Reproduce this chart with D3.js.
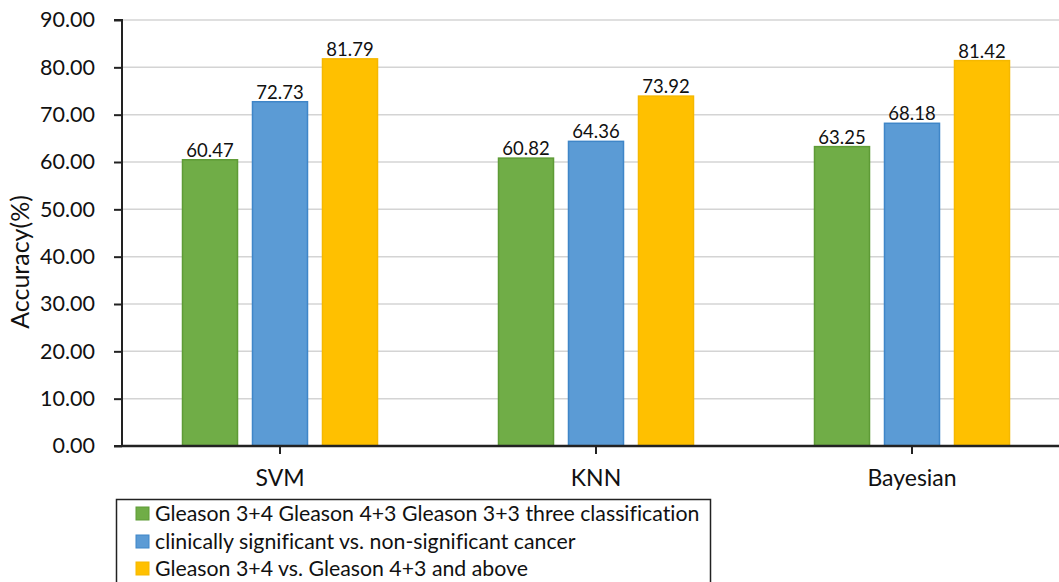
<!DOCTYPE html>
<html>
<head>
<meta charset="utf-8">
<script src="https://cdn.jsdelivr.net/npm/d3@7"></script>
<style>
  html, body { margin: 0; padding: 0; background: #fff; }
  svg { display: block; font-family: Lato, "Open Sans", sans-serif; font-variant-ligatures: none; }
</style>
</head>
<body>
<svg id="chart" width="1059" height="582"></svg>
<script>
// Classifier accuracy for three Gleason-grading tasks
const categories = ["SVM", "KNN", "Bayesian"];
const seriesNames = [
  "Gleason 3+4 Gleason 4+3 Gleason 3+3 three classification",
  "clinically significant vs. non-significant cancer",
  "Gleason 3+4 vs. Gleason 4+3 and above"
];
const threeClass = [60.47, 60.82, 63.25];
const significant = [72.73, 64.36, 68.18];
const highGrade = [81.79, 73.92, 81.42];
const yTicks = [0, 10, 20, 30, 40, 50, 60, 70, 80, 90];

const seriesValues = [threeClass, significant, highGrade];
const fills = ["#70AD47", "#5B9BD5", "#FFC000"];
const strokes = ["#5E9B36", "#3F86C8", "#F5B800"];

const svg = d3.select("#chart");
const plotLeft = 122, plotRight = 1070, plotTop = 20, plotBottom = 446;

const x = d3.scaleBand().domain(categories).range([plotLeft, plotRight]).padding(0);
const xs = d3.scaleBand().domain(d3.range(3)).range([-97.5, 97.5]).paddingInner(0.214);
const y = d3.scaleLinear().domain([0, 90]).range([plotBottom, plotTop]);

// gridlines
svg.append("g")
  .selectAll("line")
  .data(yTicks.filter(d => d > 0))
  .join("line")
  .attr("x1", plotLeft + 1).attr("x2", plotRight)
  .attr("y1", d => y(d)).attr("y2", d => y(d))
  .attr("stroke", "#d4d4d4").attr("stroke-width", 1.5);

// bars
const rows = [];
categories.forEach((c, ci) => {
  seriesValues.forEach((vals, si) => rows.push({ c, si, v: vals[ci] }));
});

svg.append("g")
  .selectAll("rect")
  .data(rows)
  .join("rect")
  .attr("x", d => x(d.c) + x.bandwidth() / 2 + xs(d.si))
  .attr("y", d => y(d.v))
  .attr("width", xs.bandwidth())
  .attr("height", d => y(0) - y(d.v))
  .attr("fill", d => fills[d.si])
  .attr("stroke", d => strokes[d.si])
  .attr("stroke-width", 1.5);

// value labels
svg.append("g")
  .selectAll("text")
  .data(rows)
  .join("text")
  .attr("x", d => x(d.c) + x.bandwidth() / 2 + xs(d.si) + xs.bandwidth() / 2)
  .attr("y", d => y(d.v) - 3)
  .attr("text-anchor", "middle")
  .attr("font-size", 18.5)
  .attr("fill", "#111")
  .text(d => d.v.toFixed(2));

// y axis
const yAxis = svg.append("g")
  .attr("transform", `translate(${plotLeft},0)`)
  .call(d3.axisLeft(y).tickValues(yTicks).tickFormat(d3.format(".2f")).tickSize(8).tickPadding(19));
yAxis.select(".domain").attr("stroke", "#222").attr("stroke-width", 2).attr("d", `M-8,${plotTop}H0V${plotBottom}H-8`);
yAxis.selectAll(".tick line").attr("stroke", "#222").attr("stroke-width", 2);
yAxis.selectAll(".tick text").attr("font-size", 21.5).attr("fill", "#111").attr("font-family", "Lato, sans-serif");

// x axis
const xAxis = svg.append("g")
  .attr("transform", `translate(0,${plotBottom})`)
  .call(d3.axisBottom(x).tickSize(8).tickPadding(16));
xAxis.select(".domain").attr("stroke", "#222").attr("stroke-width", 2.5).attr("d", `M${plotLeft},0H${plotRight}`);
xAxis.selectAll(".tick line").attr("stroke", "#222").attr("stroke-width", 2);
xAxis.selectAll(".tick text").attr("font-size", 23).attr("fill", "#111").attr("font-family", "Lato, sans-serif");

// y axis title
svg.append("text")
  .attr("transform", "translate(29,262) rotate(-90)")
  .attr("text-anchor", "middle")
  .attr("font-size", 25)
  .attr("fill", "#111")
  .text("Accuracy(%)");

// legend
const legend = svg.append("g");
legend.append("rect")
  .attr("x", 116.5).attr("y", 499.5)
  .attr("width", 594).attr("height", 100)
  .attr("fill", "#fff").attr("stroke", "#222").attr("stroke-width", 1.5);
const ly = [514, 542, 569];
seriesNames.forEach((name, i) => {
  legend.append("rect")
    .attr("x", 136).attr("y", ly[i] - 7)
    .attr("width", 13).attr("height", 13)
    .attr("fill", fills[i]).attr("stroke", strokes[i]).attr("stroke-width", 1);
  legend.append("text")
    .attr("x", 155).attr("y", ly[i])
    .attr("dy", "0.35em")
    .attr("font-size", 21.3)
    .attr("fill", "#111")
    .text(name);
});
</script>
</body>
</html>
